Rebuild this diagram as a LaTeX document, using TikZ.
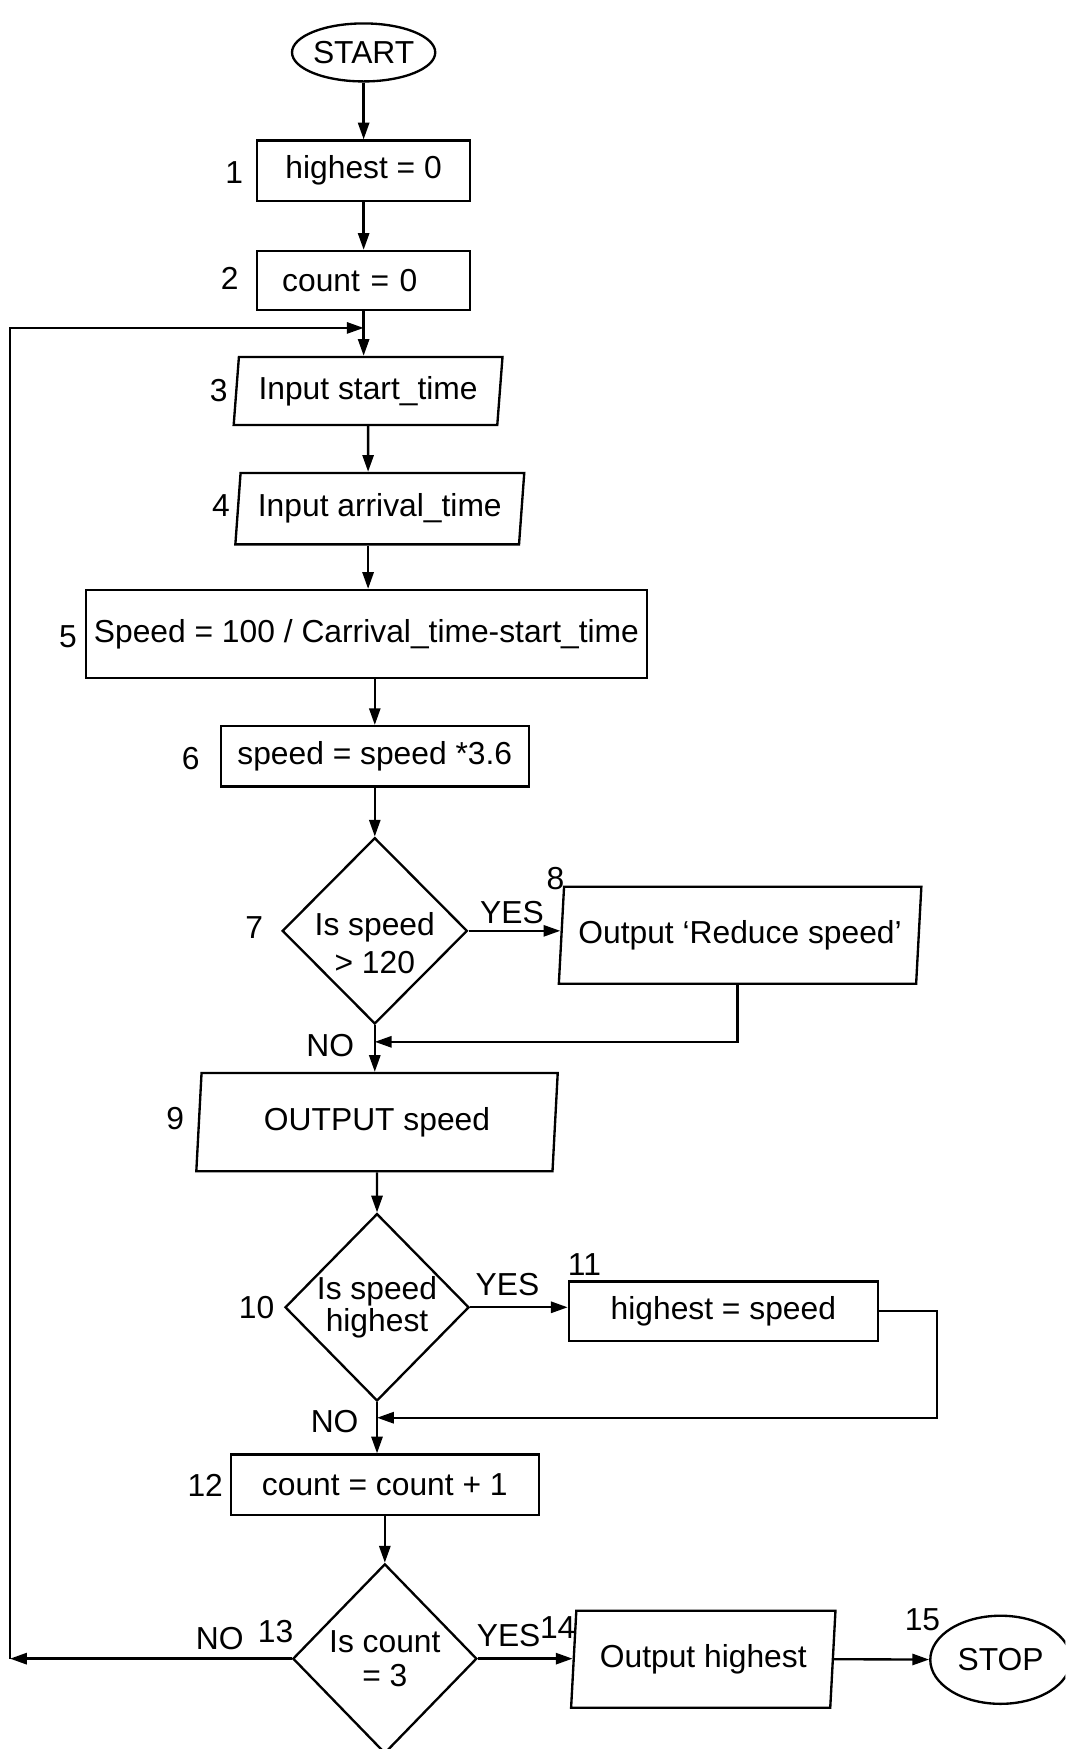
\documentclass[tikz,border=0pt]{standalone}
\usepackage{fontspec}
\setmainfont{Liberation Sans}
\usetikzlibrary{shapes.geometric, arrows.meta, calc}

\begin{document}
\begin{tikzpicture}[x=0.5pt, y=-0.5pt, line width=1.05pt,
    font=\fontsize{14.25}{17}\selectfont,
    >={Triangle[length=7.5pt, width=5pt]},
    term/.style={draw, ellipse, inner sep=0pt},
    proc/.style={draw, rectangle, inner sep=0pt},
    io/.style={draw, trapezium, trapezium left angle=80, trapezium right angle=100,
        trapezium stretches body=true, inner sep=0pt},
    decision/.style={draw, diamond, inner sep=0pt, align=center},
    num/.style={inner sep=0pt}]
    \useasboundingbox (0,0) rectangle (955,1568);
    \clip (0,0) rectangle (955,1568);

    % shapes
    \node[term, minimum width=63pt, minimum height=26pt] (start) at (326,47) {START};
    \node[proc, minimum width=95.5pt, minimum height=27pt] (b1) at (326,153) {highest = 0};
    \node[proc, minimum width=95.5pt, minimum height=26.5pt, text width=73pt, align=left] (b2) at (326,251.5) {count = 0};
    \node[io, minimum width=120.5pt, minimum height=30.5pt] (p3) at (330,350.5) {Input start\_time};
    \node[io, minimum width=129.5pt, minimum height=32pt] (p4) at (340.5,456) {Input arrival\_time};
    \node[proc, minimum width=251.5pt, minimum height=39.5pt] (b5) at (328.5,568.5) {Speed = 100 / Carrival\_time-start\_time};
    \node[proc, minimum width=138pt, minimum height=27pt] (b6) at (336,678) {speed = speed *3.6};
    \node[decision, minimum width=83pt, minimum height=83.5pt,
        label={[align=center, yshift=-5.5pt]center:Is speed\\> 120}] (d7) at (336,834.5) {};
    \node[io, minimum width=162.5pt, minimum height=43.5pt] (p8) at (663.5,838.5) {Output ‘Reduce speed’};
    \node[io, minimum width=162pt, minimum height=44pt] (p9) at (338,1006) {OUTPUT speed};
    \node[decision, minimum width=82.5pt, minimum height=84pt] (d10) at (338,1172) {Is speed\\[-2.5pt]highest};
    \node[proc, minimum width=138.5pt, minimum height=26.5pt] (b11) at (648.5,1175.5) {highest = speed};
    \node[proc, minimum width=138pt, minimum height=27pt] (b12) at (345,1331) {count = count + 1};
    \node[decision, minimum width=82.5pt, minimum height=85pt] (d13) at (345,1487) {Is count\\[-2pt]= 3};
    \node[io, minimum width=118.5pt, minimum height=43.5pt] (p14) at (630.5,1487.5) {Output highest};
    \node[term, minimum width=63pt, minimum height=39.5pt] (stop) at (897,1488) {STOP};

    % step numbers
    \node[num] (n1) at (210,155) {1};
    \node[num] (n2) at (206,250) {2};
    \node[num] (n3) at (196,350) {3};
    \node[num] (n4) at (198,453) {4};
    \node[num] (n5) at (61,571) {5};
    \node[num] (n6) at (171,680) {6};
    \node[num] (n7) at (228,832) {7};
    \node[num] (n8) at (498,788) {8};
    \node[num] (n9) at (157,1003) {9};
    \node[num] (n10) at (230,1172) {10};
    \node[num] (n11) at (524,1134) {11};
    \node[num] (n12) at (184,1332) {12};
    \node[num] (n13) at (247,1463) {13};
    \node[num] (n14) at (500,1459) {14};
    \node[num] (n15) at (827,1452) {15};

    % branch labels
    \node[num] (yes7) at (459,818) {YES};
    \node[num] (no7) at (296,937) {NO};
    \node[num] (yes10) at (455,1152) {YES};
    \node[num] (no10) at (300,1274) {NO};
    \node[num] (yes13) at (456,1466) {YES};
    \node[num] (no13) at (197,1469) {NO};

    % joins
    \coordinate (j2) at (326,294);
    \coordinate (j7) at (336,934);
    \coordinate (j10) at (338,1271);
    \coordinate (back) at (9,1487);

    % connectors
    \draw[->] (start) -- (b1);
    \draw[->] (b1) -- (b2);
    \draw[->] (b2) -- (b2 |- p3.north);
    \draw[->] (p3) -- (p3 |- p4.north);
    \draw[->] (p4.south -| p3) -- (b5.north -| p3);
    \draw[->] (b5.south -| b6) -- (b6);
    \draw[->] (b6) -- (d7);
    \draw[->] (d7.east) -- (p8.west |- d7.east);
    \draw[->] ($(p8.bottom left corner)!0.5!(p8.bottom right corner)$) |- (j7);
    \draw[->] (d7) -- (d7 |- p9.north);
    \draw[->] (p9) -- (d10);
    \draw[->] (d10.east) -- (b11.west |- d10.east);
    \draw[->] (b11.east) -- ++(52,0) |- (j10);
    \draw[->] (d10) -- (d10 |- b12.north);
    \draw[->] (b12) -- (d13);
    \draw[->] (d13.east) -- (p14.west |- d13.east);
    \draw[->] (p14.east) -- (stop);
    \draw[->] (d13.west) -- (back);
    \draw[->] (back) |- (j2);
\end{tikzpicture}
\end{document}
